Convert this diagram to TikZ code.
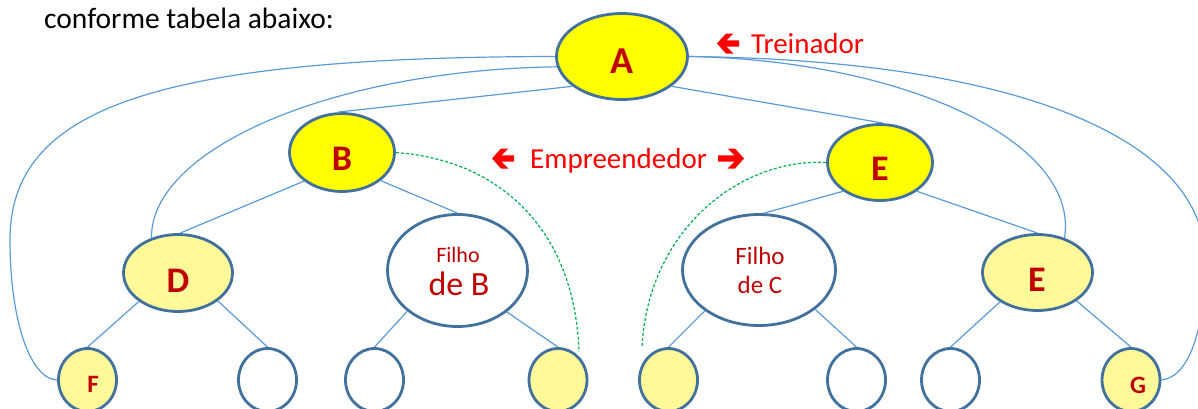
\documentclass[tikz,border=0pt]{standalone}
\usepackage{fontspec}
\setmainfont{Carlito}
\usetikzlibrary{shapes.geometric}
\definecolor{ybright}{HTML}{FFFF00}
\definecolor{ylight}{HTML}{FFF99A}
\definecolor{outl}{HTML}{41719C}
\definecolor{conn}{HTML}{5B9BD5}
\definecolor{dred}{HTML}{C00000}
\definecolor{gdash}{HTML}{00B050}
\begin{document}
\begin{tikzpicture}[x=1pt,y=-1pt,
  bub/.style={ellipse, draw=outl, line width=2.8pt, inner sep=0pt},
  hot/.style={bub, fill=ybright},
  warm/.style={bub, fill=ylight},
  cold/.style={bub, fill=white},
  bigl/.style={text=dred, font=\fontsize{36}{36}\selectfont\bfseries, inner sep=0pt},
  smalll/.style={text=dred, font=\fontsize{25}{25}\selectfont\bfseries, inner sep=0pt},
  filho/.style={text=dred, inner sep=0pt, align=center},
  lbl/.style={text=red, font=\fontsize{29}{29}\selectfont, inner sep=0pt, anchor=base west},
  link/.style={conn, line width=1.2pt},
  gline/.style={gdash, line width=1.2pt, dash pattern=on 3pt off 2pt}
]
\useasboundingbox (0,0) rectangle (1198,408);
\clip (0,0) rectangle (1198,408);

% heading
\node[font=\fontsize{29.5}{29.5}\selectfont, anchor=base west, inner sep=0pt] (head) at (44,28) {conforme tabela abaixo:};

% nodes
\node[hot, minimum width=131pt, minimum height=86pt] (A) at (622,56.5) {};
\node[hot, minimum width=105pt, minimum height=78pt] (B) at (342,152.5) {};
\node[hot, minimum width=105pt, minimum height=76pt] (E) at (880,162.5) {};
\node[warm, minimum width=109pt, minimum height=77pt] (D) at (178,273) {};
\node[cold, minimum width=140pt, minimum height=112pt] (FB) at (457.5,270.5) {};
\node[cold, minimum width=153pt, minimum height=111pt] (FC) at (759,270) {};
\node[warm, minimum width=110pt, minimum height=76pt] (E2) at (1037.5,272.5) {};

\node[warm, minimum width=58pt, minimum height=63pt] (F) at (87.5,380) {};
\node[cold, minimum width=58pt, minimum height=63pt] (c2) at (267.5,380) {};
\node[cold, minimum width=58pt, minimum height=63pt] (c3) at (374.5,380) {};
\node[warm, minimum width=58pt, minimum height=63pt] (c4) at (558,380) {};
\node[warm, minimum width=58pt, minimum height=63pt] (c5) at (668.5,380) {};
\node[cold, minimum width=58pt, minimum height=63pt] (c6) at (856.5,380) {};
\node[cold, minimum width=58pt, minimum height=63pt] (c7) at (950.5,380) {};
\node[warm, minimum width=58pt, minimum height=63pt] (G) at (1131,380) {};

% texts
\node[bigl, font=\fontsize{38}{38}\selectfont\bfseries] (At) at (622,61) {A};
\node[bigl] (Bt) at (342,159) {B};
\node[bigl] (Et) at (880,169) {E};
\node[bigl] (Dt) at (178,281) {D};
\node[bigl] (E2t) at (1037,280) {E};
\node[smalll] (Ft) at (93,384) {F};
\node[smalll] (Gt) at (1138,385) {G};
\node[filho, font=\fontsize{22}{22}\selectfont] (FBt1) at (458,255) {Filho};
\node[filho, font=\fontsize{34}{34}\selectfont] (FBt2) at (459,284) {de B};
\node[filho, font=\fontsize{25}{25}\selectfont] (FCt1) at (760,256) {Filho};
\node[filho, font=\fontsize{25}{25}\selectfont] (FCt2) at (760,285) {de C};

\node[lbl] (tre) at (751,53) {Treinador};
\node[lbl] (emp) at (530,168) {Empreendedor};

% bold arrows
\begin{scope}[shift={(717,43.5)}]
  \fill[red] (0,0) -- (9,-10) -- (16.5,-10) -- (9.5,-3.2) -- (22,-3.2) -- (22,3.2) -- (9.5,3.2) -- (16.5,10) -- (9,10) -- cycle;
\end{scope}
\begin{scope}[shift={(492,158.5)}]
  \fill[red] (0,0) -- (9,-10) -- (16.5,-10) -- (9.5,-3.2) -- (22,-3.2) -- (22,3.2) -- (9.5,3.2) -- (16.5,10) -- (9,10) -- cycle;
\end{scope}
\begin{scope}[shift={(744,158.5)}, xscale=-1]
  \fill[red] (0,0) -- (9,-10) -- (16.5,-10) -- (9.5,-3.2) -- (26,-3.2) -- (26,3.2) -- (9.5,3.2) -- (16.5,10) -- (9,10) -- cycle;
\end{scope}

% straight connectors
\draw[link] (A.211) -- ([xshift=-4pt]B.north);
\draw[link] (A.329) -- ([xshift=3pt]E.north);
\draw[link] (B.217) -- ([xshift=2pt]D.north);
\draw[link] (B.324) -- (FB.north);
\draw[link] (E.218) -- ([xshift=5pt]FC.north);
\draw[link] (E.322) -- (E2.north);
\draw[link] (D.216) -- (F.north);
\draw[link] (D.325) -- (c2.north);
\draw[link] (FB.219) -- (c3.north);
\draw[link] (FB.320) -- (c4.north);
\draw[link] (FC.217) -- (c5.north);
\draw[link] (FC.325) -- (c6.north);
\draw[link] (E2.218) -- (c7.north);
\draw[link] (E2.324) -- (G.north);

% long curves
\coordinate (lf1) at (10,240);
\coordinate (rg1) at (1205,260);
\draw[link] (A.west) .. controls (150,57) and (10,110) .. (lf1) .. controls (10,320) and (30,379) .. (F.west);
\draw[link] (A.189) .. controls (330,70) and (150,150) .. (D.127);
\draw[link] (A.east) .. controls (900,60) and (1080,140) .. (E2.52);
\draw[link] (A.east) .. controls (1020,60) and (1205,140) .. (rg1) .. controls (1205,340) and (1185,378) .. (G.east);

% green dashed
\coordinate (g4) at (579,352);
\coordinate (g5) at (642,347);
\draw[gline] (B.east) .. controls (500,160) and (575,230) .. (g4);
\draw[gline] (E.west) .. controls (740,158) and (648,230) .. (g5);
\end{tikzpicture}
\end{document}
